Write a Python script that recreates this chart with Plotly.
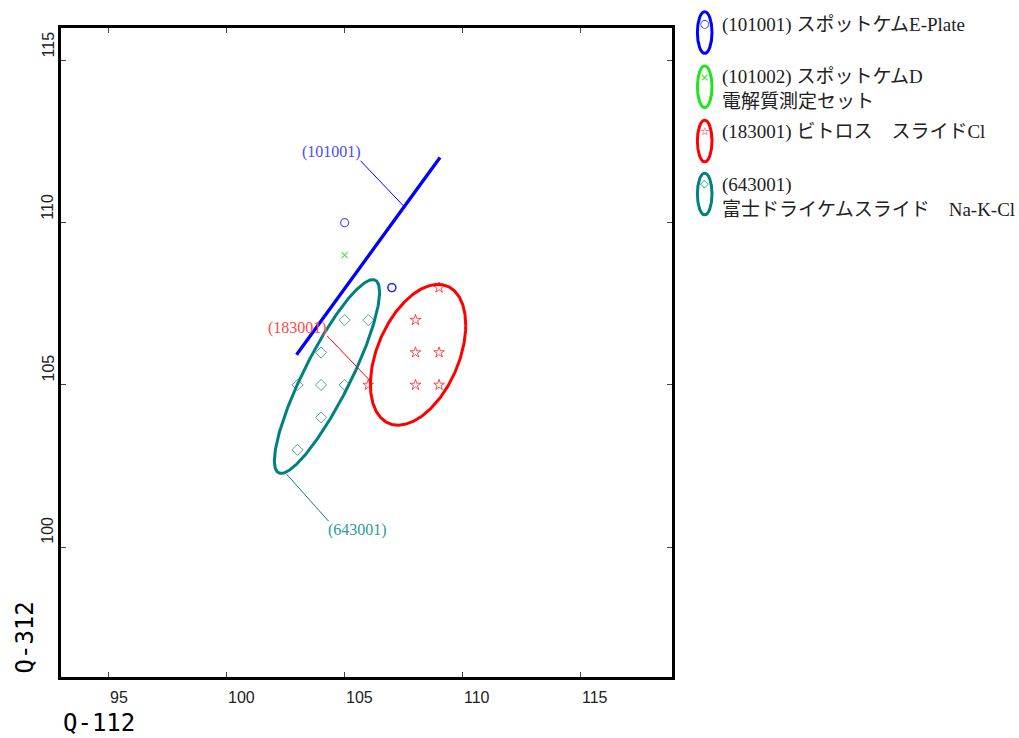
import numpy as np
import plotly.graph_objects as go

# ---- data: Q-112 (x) vs Q-312 (y) per reagent code ----
x_101001 = [105, 107, 107]
y_101001 = [110, 108, 108]
x_101002 = [105]
y_101002 = [109]
x_183001 = [109, 108, 108, 109, 106, 108, 109]
y_183001 = [108, 107, 106, 106, 105, 105, 105]
x_643001 = [105, 106, 104, 103, 104, 105, 104, 103]
y_643001 = [107, 107, 106, 105, 105, 105, 104, 103]

legend_labels = [
    "(101001) スポットケムE-Plate",
    "(101002) スポットケムD<br>電解質測定セット",
    "(183001) ビトロス　スライドCl",
    "(643001)<br>富士ドライケムスライド　Na-K-Cl",
]

# group ellipses: centre, half extent along x / y, correlation
ell_codes = ["(101001)", "(183001)", "(643001)"]
ell_cx = [106.0, 108.11, 104.25]
ell_cy = [108.97, 105.93, 105.26]
ell_sx = [3.04, 2.02, 2.23]
ell_sy = [3.04, 2.17, 2.985]
ell_rho = [1.0, 0.42, 0.87]

# callout labels for the ellipses (text position, leader start, leader end)
call_tx = [104.44, 103.0, 105.55]
call_ty = [112.18, 106.76, 100.54]
call_x0 = [105.67, 104.26, 102.54]
call_y0 = [111.91, 106.51, 102.25]
call_x1 = [107.49, 106.09, 104.32]
call_y1 = [110.52, 105.12, 100.80]

x_ticks = [95, 100, 105, 110, 115]
y_ticks = [100, 105, 110, 115]
x_title = "Q-112"
y_title = "Q-312"

# ---- styling ----
W, H = 1019, 738
ML, MR, MT, MB = 61, 347, 28, 61
PW, PH = W - ML - MR, H - MT - MB

col_line = ["#0000ff", "#ff0000", "#008080"]
col_text = ["#4b4bff", "#ff4a4a", "#2b9a9a"]
legend_col = ["#0000ff", "#1ee51e", "#ff0000", "#008080"]
serif = "Liberation Serif, Noto Sans CJK JP, serif"
sans = "Liberation Sans, Arial, sans-serif"
mono = "DejaVu Sans Mono, monospace"


def px(xp):
    return (xp - ML) / PW


def py(yp):
    return 1 - (yp - MT) / PH


fig = go.Figure()

# group ellipses
t = np.linspace(0, 2 * np.pi, 361)
for i in range(len(ell_codes)):
    r = ell_rho[i]
    ex = ell_cx[i] + ell_sx[i] * np.cos(t)
    ey = ell_cy[i] + ell_sy[i] * (r * np.cos(t) + np.sqrt(max(0.0, 1 - r * r)) * np.sin(t))
    fig.add_trace(go.Scatter(x=ex, y=ey, mode="lines",
                             line=dict(color=col_line[i], width=3.3 if i == 0 else 3),
                             hoverinfo="skip", showlegend=False))

# callout leader lines and labels
for i in range(len(ell_codes)):
    fig.add_trace(go.Scatter(x=[call_x0[i], call_x1[i]], y=[call_y0[i], call_y1[i]],
                             mode="lines", line=dict(color=col_line[i], width=1),
                             hoverinfo="skip", showlegend=False))
    fig.add_annotation(x=call_tx[i], y=call_ty[i], xref="x", yref="y", text=ell_codes[i],
                       showarrow=False, font=dict(family=serif, size=16, color=col_text[i]))

# sample points
fig.add_trace(go.Scatter(x=x_101001, y=y_101001, mode="markers", showlegend=False,
                         marker=dict(symbol="circle-open", size=8, opacity=0.65,
                                     color="#0000ff", line=dict(width=1.3, color="#0000ff"))))
fig.add_trace(go.Scatter(x=x_101002, y=y_101002, mode="markers", showlegend=False,
                         marker=dict(symbol="x-thin-open", size=6, opacity=0.7,
                                     color="#00dd00", line=dict(width=1.2, color="#00dd00"))))
fig.add_trace(go.Scatter(x=x_183001, y=y_183001, mode="markers", showlegend=False,
                         marker=dict(symbol="star-open", size=8, opacity=0.7,
                                     color="#ff0000", line=dict(width=1, color="#ff0000"))))
fig.add_trace(go.Scatter(x=x_643001, y=y_643001, mode="markers", showlegend=False,
                         marker=dict(symbol="diamond-open", size=8.5, opacity=0.7,
                                     color="#008080", line=dict(width=1, color="#008080"))))

# tick labels (start at the tick, y labels read upwards)
for v in x_ticks:
    fig.add_annotation(x=v, y=0, xref="x", yref="paper", text=str(v), showarrow=False,
                       xanchor="left", yanchor="middle", xshift=-1, yshift=-20,
                       font=dict(family=sans, size=16, color="#222"))
for v in y_ticks:
    fig.add_annotation(x=0, y=v, xref="paper", yref="y", text=str(v), showarrow=False,
                       textangle=-90, xanchor="center", yanchor="bottom", xshift=-13, yshift=1,
                       font=dict(family=sans, size=16, color="#222"))

# axis titles
fig.add_annotation(x=0, y=0, xref="paper", yref="paper", text=x_title, showarrow=False,
                   xanchor="left", yanchor="middle", xshift=0, yshift=-46,
                   font=dict(family=mono, size=24, color="#000"))
fig.add_annotation(x=0, y=py(637.5), xref="paper", yref="paper", text=y_title, showarrow=False,
                   textangle=-90, xanchor="center", yanchor="middle", xshift=-37,
                   font=dict(family=mono, size=24, color="#000"))

# legend: ellipse swatch with the marker glyph inside, then the label
leg_cy = [32.5, 86.7, 141.0, 194.0]
leg_my = [23.3, 77.3, 131.7, 183.3]
leg_ty = [25.0, 89.0, 132.0, 197.5]
leg_glyph = ["○", "×", "☆", "◇"]
for i in range(4):
    fig.add_shape(type="circle", xref="paper", yref="paper",
                  x0=px(704.7 - 7.3), x1=px(704.7 + 7.3),
                  y0=py(leg_cy[i] + 20.8), y1=py(leg_cy[i] - 20.8),
                  line=dict(color=legend_col[i], width=3))
    fig.add_annotation(x=px(704.7), y=py(leg_my[i]), xref="paper", yref="paper",
                       text=leg_glyph[i], showarrow=False, xanchor="center", yanchor="middle",
                       font=dict(family="DejaVu Sans", size=11, color=legend_col[i]))
    fig.add_annotation(x=px(720), y=py(leg_ty[i]), xref="paper", yref="paper",
                       text=legend_labels[i], showarrow=False, align="left",
                       xanchor="left", yanchor="middle",
                       font=dict(family=serif, size=19, color="#222"))

axis_common = dict(showline=True, linewidth=2.5, linecolor="#000", mirror="allticks",
                   ticks="inside", ticklen=5, tickwidth=1, tickcolor="#444",
                   showgrid=False, zeroline=False, showticklabels=False)
fig.update_xaxes(range=[92.98, 118.87], tickvals=x_ticks, **axis_common)
fig.update_yaxes(range=[96, 116], tickvals=y_ticks, **axis_common)

fig.update_layout(width=W, height=H, margin=dict(l=ML, r=MR, t=MT, b=MB),
                  paper_bgcolor="white", plot_bgcolor="white", showlegend=False)

fig.write_html("out.html")
